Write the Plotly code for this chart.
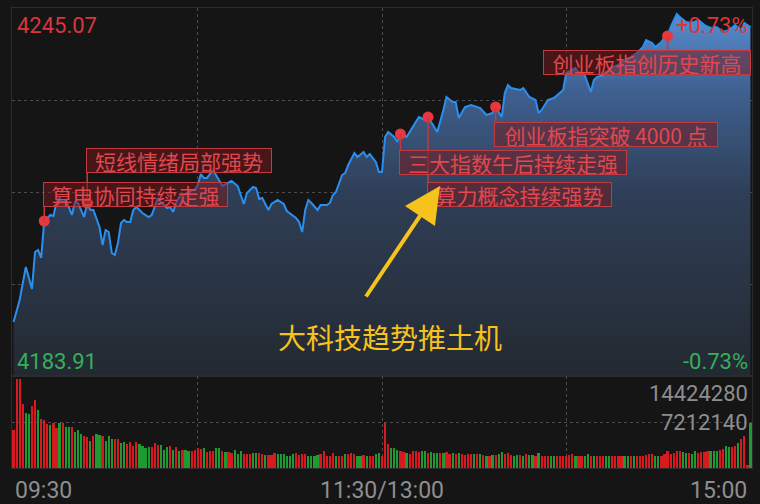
import plotly.graph_objects as go
from plotly.subplots import make_subplots

# 分时图: 上下限价格与成交量上限 (图中标注)
price_top = 4245.07
price_bottom = 4183.91
vol_top = 14424280

# minute index: 0 = 09:30, 120 = 11:30, 121.. = 13:01.., 240 = 15:00
line_minutes = [0, 2, 4, 6, 7, 8, 9, 10, 12, 13, 14, 15, 16, 17, 18, 19, 20, 21, 23, 24,
                25, 26, 28, 29, 30, 31, 32, 33, 34, 35, 36, 37, 38, 39, 40, 41, 42, 44, 45, 46,
                47, 48, 49, 50, 51, 52, 53, 54, 55, 57, 58, 59, 60, 61, 62, 63, 65, 67, 68, 71,
                73, 75, 76, 78, 79, 80, 81, 83, 84, 86, 88, 89, 91, 92, 93, 94, 95, 96, 97, 99,
                100, 102, 103, 104, 105, 107, 108, 109, 111, 112, 114, 115, 116, 118, 119, 120,
                121, 122, 124, 125, 126, 128, 130, 132, 134, 135, 137, 138, 140, 141, 143, 144,
                145, 147, 149, 151, 152, 154, 156, 157, 159, 160, 161, 162, 165, 166, 168, 170,
                171, 172, 174, 176, 177, 179, 180, 182, 183, 184, 186, 188, 189, 190, 192, 193,
                195, 197, 198, 200, 201, 203, 205, 206, 208, 209, 211, 212, 213, 214, 216, 217,
                219, 221, 223, 225, 227, 229, 231, 233, 235, 237, 238, 240]
line_prices = [4192.88, 4196.54, 4202.02, 4198.37, 4204.52, 4204.85, 4203.52, 4209.67, 4210.67, 4210.50,
               4212.83, 4213.49, 4212.83, 4213.16, 4212.00, 4210.67, 4212.83, 4212.66, 4210.33, 4212.66,
               4211.50, 4211.50, 4208.67, 4205.68, 4208.17, 4207.84, 4204.35, 4204.02, 4206.01, 4209.34,
               4209.84, 4209.50, 4209.50, 4211.50, 4212.00, 4211.50, 4211.00, 4210.33, 4210.67, 4212.00,
               4213.49, 4212.83, 4212.33, 4211.83, 4212.00, 4211.17, 4212.83, 4213.66, 4213.99, 4214.32,
               4214.82, 4214.82, 4215.65, 4217.48, 4216.82, 4216.82, 4218.15, 4216.48, 4215.49, 4216.32,
               4215.49, 4212.49, 4214.32, 4215.32, 4215.15, 4213.33, 4213.49, 4211.50, 4212.49, 4213.16,
               4212.49, 4211.33, 4210.50, 4210.17, 4209.50, 4207.84, 4211.50, 4213.16, 4212.66, 4211.50,
               4212.33, 4212.33, 4212.66, 4213.99, 4214.49, 4217.31, 4217.65, 4218.98, 4220.97, 4220.31,
               4221.14, 4220.31, 4220.80, 4219.48, 4217.81, 4217.81,
               4223.63, 4224.46, 4223.63, 4222.80, 4224.13, 4223.63, 4225.29, 4226.95, 4226.46, 4226.95,
               4225.29, 4224.46, 4228.12, 4230.28, 4229.45, 4229.45,
               4226.79, 4228.62, 4228.95, 4228.62, 4228.45, 4227.29, 4227.62, 4228.62, 4226.95, 4230.94,
               4232.27, 4231.77, 4231.44, 4231.77, 4230.28, 4229.78,
               4227.62, 4228.12, 4229.78, 4230.11, 4230.61, 4231.44, 4234.27, 4234.77, 4235.10, 4234.43,
               4233.93, 4231.11, 4233.10, 4233.60, 4233.93, 4234.43,
               4235.26, 4235.60, 4236.10, 4236.43, 4236.93, 4237.59, 4238.59, 4239.75, 4239.25, 4238.59,
               4239.42, 4240.25, 4240.42, 4241.91, 4244.07, 4243.57,
               4242.74, 4242.58, 4243.08, 4242.24, 4241.75, 4241.91, 4241.08, 4241.41, 4242.24, 4241.41,
               4242.58, 4241.91]

event_minutes = [10, 24, 126, 135, 157, 213]
event_prices = [4209.67, 4212.66, 4224.13, 4226.95, 4228.62, 4240.42]
event_texts = ['算电协同持续走强', '短线情绪局部强势', '三大指数午后持续走强',
               '算力概念持续强势', '创业板指突破 4000 点', '创业板指创历史新高']

# 成交量 (百万), one bar per minute
vol_m = [6.0, 13.96, 13.96, 10.1, 8.6, 8.4, 9.7, 10.7, 9.1, 7.65,
         7.55, 6.9, 6.7, 7.0, 6.2, 7.0, 7.1, 6.5, 6.4, 6.5,
         5.6, 6.0, 5.3, 5.0, 4.8, 4.3, 5.0, 5.3, 5.1, 5.0,
         4.3, 5.0, 4.6, 4.5, 4.6, 3.9, 4.0, 3.8, 4.0, 3.4,
         4.0, 3.8, 3.5, 3.1, 3.3, 3.3, 3.9, 3.6, 3.6, 2.9,
         3.3, 3.5, 2.9, 3.3, 2.6, 2.8, 2.8, 2.7, 2.6, 2.8,
         3.1, 3.0, 3.1, 2.5, 2.6, 2.7, 3.2, 3.2, 2.6, 2.5,
         2.5, 2.4, 2.9, 2.2, 2.6, 2.2, 2.2, 2.2, 2.3, 2.4,
         2.38, 2.22, 2.07, 2.07, 2.07, 2.33, 2.27, 2.17, 2.12, 1.96,
         1.96, 2.12, 2.33, 2.07, 2.22, 2.22, 1.96, 1.96, 1.96, 2.07,
         2.22, 2.64, 1.96, 1.86, 2.38, 1.96, 1.86, 1.86, 2.22, 2.22,
         2.38, 2.12, 1.96, 1.96, 2.07, 1.96, 1.86, 1.86, 2.12, 2.33,
         1.86, 7.13, 3.77, 3.10, 3.10, 2.84, 2.74, 2.48, 2.33, 2.22,
         2.74, 2.59, 2.48, 2.74, 2.59, 2.33, 2.48, 2.33, 2.33, 2.33,
         2.33, 2.48, 2.22, 2.38, 2.22, 2.33, 2.22, 2.07, 2.17, 2.22,
         2.12, 2.22, 2.22, 2.07, 1.96, 1.96, 2.07, 2.07, 2.22, 2.48,
         2.2,
         2.38, 2.07, 1.96, 2.07, 2.07, 1.96, 2.22, 2.07, 2.07, 1.96,
         2.38, 1.96, 1.96, 1.86, 1.96, 1.96, 1.86, 1.86, 1.86, 1.96,
         2.07, 2.27, 1.96, 1.86, 1.86, 1.96, 2.22, 1.96, 1.96, 1.86,
         1.86, 1.86, 1.86, 1.86, 1.86, 1.86, 1.96, 1.86, 1.86, 1.86,
         1.86, 1.96, 1.86, 1.86, 1.96, 2.07, 2.17, 2.27, 1.96, 1.96,
         1.96, 2.22, 2.59, 2.22, 2.38, 2.64, 2.59, 2.48, 2.38, 2.38,
         2.27, 2.59, 2.38, 2.48, 2.48, 2.59, 2.69, 2.74, 2.74, 2.84,
         3.00, 3.41, 3.26, 3.26, 3.41, 3.93, 4.55, 5.07, 0.5, 7.13]
vol_side = ('rrrrggrrgr' 'rrgrrgrggr' 'gggrrgrggr' 'gggrrggrrr' 'rggggrrrgg' 'grgrgrggrr'
            'rrgrrrggrg' 'rrgggrrrgg'
            'rrgrrrgggg' 'ggrrrrgggg' 'rrrrrgrrgr' 'rrggrgrrgg' 'rrrgggrrgr' 'rrrggrgggr'
            'grrgrgrrrr' 'grgrgrgrgg'
            'r'
            'rrggrgrggr' 'grrrggrrrr' 'rrgrrggrgr' 'rrggrrrrgg' 'rgrrrrrrgg' 'rrrrrrrggr'
            'ggrrrrgggr' 'rggrrgrrrg')

time_labels = ['09:30', '11:30/13:00', '15:00']
callout_text = '大科技趋势推土机'

# label box placement, pixels from each event dot
label_dx = [-1, -1, -1, -1, -2, -125]
label_dy = [14, 30, -16, -65, -15, -14]
label_w = [183, 184, 226, 183, 222, 206]

RED = '#d9363c'
GREEN = '#34b05a'
GREY = '#8e8e8e'
NUM_FONT = 'Roboto, Noto Sans, sans-serif'
CJK_FONT = 'Noto Sans CJK SC'

prev_close = (price_top + price_bottom) / 2
pct = (price_top - prev_close) / prev_close * 100
step = (price_top - price_bottom) / 4

fig = make_subplots(rows=2, cols=1, shared_xaxes=True)

fig.add_trace(go.Scatter(
    x=line_minutes, y=line_prices, mode='lines',
    line=dict(color='#2b8ff0', width=2),
    fill='tozeroy',
    fillgradient=dict(type='vertical', start=price_bottom, stop=price_top,
                      colorscale=[[0, '#232931'], [0.5, '#2f3f57'], [0.78, '#3f6192'], [1, '#5a90d4']]),
    hoverinfo='skip', showlegend=False), row=1, col=1)

fig.add_trace(go.Scatter(
    x=event_minutes, y=event_prices, mode='markers',
    marker=dict(color='#e8383f', size=11),
    hoverinfo='skip', showlegend=False), row=1, col=1)

bar_colors = ['#d8191f' if s == 'r' else '#1f9a30' for s in vol_side]
fig.add_trace(go.Bar(
    x=list(range(len(vol_m))), y=vol_m, marker_color=bar_colors, marker_line_width=0,
    width=0.72, showlegend=False, hoverinfo='skip'), row=2, col=1)

shapes = []
annotations = []
for m, p, t, dx, dy, w in zip(event_minutes, event_prices, event_texts, label_dx, label_dy, label_w):
    shapes.append(dict(type='line', xref='x', yref='y', xsizemode='pixel', ysizemode='pixel',
                       xanchor=m, yanchor=p, x0=0, x1=0, y0=0, y1=dy,
                       line=dict(color='#c8383d', width=1.5)))
    annotations.append(dict(x=m, y=p, xref='x', yref='y', text=t, showarrow=False,
                            xanchor='left', yanchor='bottom' if dy > 0 else 'top',
                            xshift=dx, yshift=dy, width=w, height=23, borderpad=0,
                            bgcolor='rgba(120,24,28,0.5)', bordercolor='#c23a3f', borderwidth=1,
                            font=dict(family=CJK_FONT, size=21, color='#e2474d')))

# yellow arrow and caption
annotations.append(dict(x=440 / 760, y=(504 - 186) / 504, xref='paper', yref='paper', text='',
                        showarrow=True, ax=-75, ay=112, arrowhead=2, arrowsize=1.8, arrowwidth=4,
                        arrowcolor='#f6c21c'))
annotations.append(dict(x=390 / 760, y=(504 - 337) / 504, xref='paper', yref='paper',
                        text=callout_text, showarrow=False, xanchor='center', yanchor='middle',
                        font=dict(family=CJK_FONT, size=28, color='#f6c21c')))

def corner(text, x, y, anchor, color, size=22):
    return dict(x=x, y=y, xref='paper', yref='paper', text=text, showarrow=False,
                xanchor=anchor, yanchor='middle', font=dict(family=NUM_FONT, size=size, color=color))

annotations += [
    corner(f'{price_top:.2f}', 15 / 760, (504 - 25) / 504, 'left', RED),
    corner(f'+{pct:.2f}%', 750 / 760, (504 - 25) / 504, 'right', RED),
    corner(f'{price_bottom:.2f}', 15 / 760, (504 - 361) / 504, 'left', GREEN),
    corner(f'-{pct:.2f}%', 750 / 760, (504 - 361) / 504, 'right', GREEN),
    corner(f'{vol_top}', 750 / 760, (504 - 393) / 504, 'right', GREY),
    corner(f'{vol_top // 2}', 750 / 760, (504 - 422) / 504, 'right', GREY),
    corner(time_labels[0], 13 / 760, (504 - 490) / 504, 'left', GREY, 23),
    corner(time_labels[1], 382 / 760, (504 - 490) / 504, 'center', GREY, 23),
    corner(time_labels[2], 749 / 760, (504 - 490) / 504, 'right', GREY, 23),
]

axis_common = dict(showticklabels=False, ticks='', zeroline=False, showgrid=True,
                   gridcolor='#4c4c4c', griddash='dot', gridwidth=1,
                   showline=True, linecolor='#2c2c2c', linewidth=1, mirror=True)

fig.update_xaxes(range=[-0.5, 240.5], tickvals=[60, 120, 180], **axis_common)
fig.update_layout(
    width=760, height=504,
    margin=dict(l=0, r=0, t=0, b=0),
    paper_bgcolor='#151515', plot_bgcolor='#151515',
    showlegend=False,
    bargap=0,
    xaxis=dict(domain=[12 / 760, 752 / 760]),
    xaxis2=dict(domain=[12 / 760, 752 / 760]),
    yaxis=dict(domain=[(504 - 376) / 504, (504 - 8) / 504], range=[price_bottom, price_top],
               tickvals=[price_bottom + step, prev_close, price_top - step], **axis_common),
    yaxis2=dict(domain=[(504 - 468) / 504, (504 - 376) / 504], range=[0, vol_top / 1e6],
                tickvals=[vol_top / 2e6], **axis_common),
    shapes=shapes,
    annotations=annotations,
)

# the page body has a default 8px margin; drop it so the figure fills the window
fig.write_html('out.html', config={'displayModeBar': False},
               post_script="document.body.style.margin='0';")
